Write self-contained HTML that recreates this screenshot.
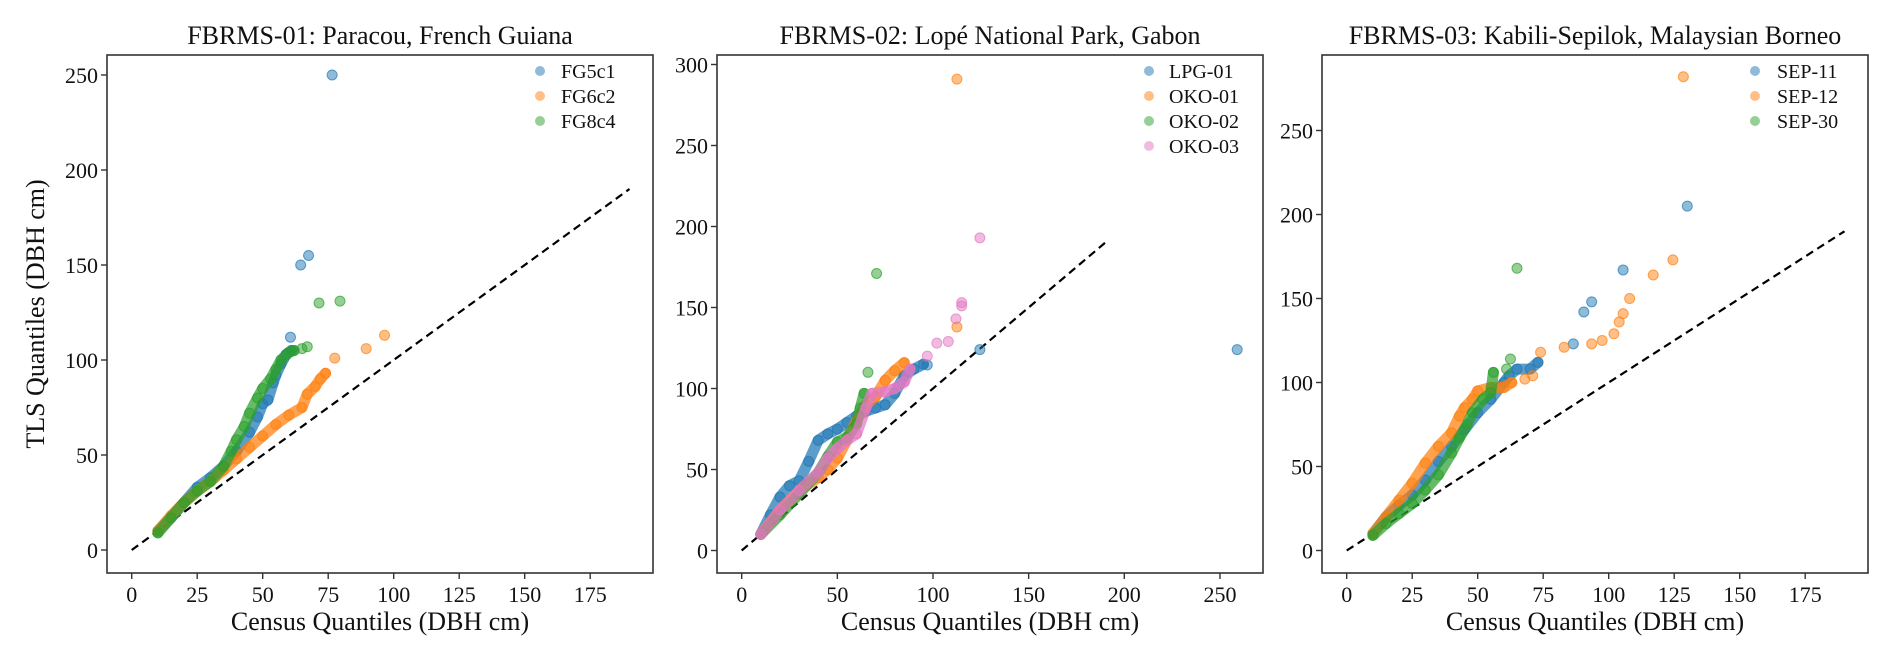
<!DOCTYPE html>
<html><head><meta charset="utf-8"><style>
html,body{margin:0;padding:0;background:#fff;}
svg{display:block;font-family:"Liberation Serif",serif;}
</style></head><body>
<svg id="fig" width="1892" height="658" viewBox="0 0 1892 658" xmlns="http://www.w3.org/2000/svg"></svg>
<script>
// ---- data (census quantile, TLS quantile) ----
const p1Names = ["FG5c1","FG6c2","FG8c4"];
const p1sX = [10,15,20,25,30,35,40,45,48,50,52,54,55,57,59,61,60.6,64.5,67.5,76.5];
const p1sY = [10,17,25,33,38,44,52,62,70,77,79,88,92,98,103,105,112,150,155,250];
const p1oX = [10,15,20,25,30,35,40,45,50,55,60,65,67,70,72,74,77.5,89.5,96.5];
const p1oY = [10,18,25,31,36,42,48,54,60,66,71,75,82,86,90,93,101,106,113];
const p1gX = [10,15,20,25,30,35,38,40,43,45,48,50,53,55,57,60,62,65,67,71.5,79.5];
const p1gY = [9,17,25,31,36,44,52,58,65,72,80,85,90,95,100,104,105,106,107,130,131];
const p1Dense = [16,16,17];

const p2Names = ["LPG-01","OKO-01","OKO-02","OKO-03"];
const p2bX = [10,15,20,25,30,35,40,45,50,55,60,65,70,75,80,85,90,95,97,124.5,259];
const p2bY = [10,22,33,40,43,55,68,72,75,79,83,86,88,90,97,108,112,115,114.5,124,124];
const p2oX = [10,20,30,40,45,50,55,60,65,70,75,80,85,112.5,112.5];
const p2oY = [10,25,37,45,50,57,68,80,90,95,105,111,116,138,291];
const p2gX = [10,20,30,40,45,50,55,60,62,64,66,70.5];
const p2gY = [10,22,35,48,58,67,70,78,88,97,110,171];
const p2pX = [10,20,30,40,45,50,55,60,65,68,75,80,85,88,97,102,108,112,115,115,124.5];
const p2pY = [10,25,37,48,57,63,68,72,88,97,98,100,104,112,120,128,129,143,151,153,193];
const p2Dense = [18,13,10,14];

const p3Names = ["SEP-11","SEP-12","SEP-30"];
const p3bX = [10,15,20,25,30,35,40,45,50,55,60,62,65,70,73,86.5,90.5,93.5,105.5,130];
const p3bY = [10,20,27,33,42,53,62,72,82,90,100,104,108,108,112,123,142,148,167,205];
const p3oX = [10,15,20,25,30,35,40,43,45,48,50,55,60,63,68,71,74,83,93.5,97.5,102,104,105.5,108,117,124.5,128.5];
const p3oY = [10,20,30,40,52,62,70,80,85,90,95,97,97,100,102,104,118,121,123,125,129,136,141,150,164,173,282];
const p3gX = [10,15,20,25,30,35,40,43,46,48,52,55,56,61,62.5,65];
const p3gY = [9,16,22,28,36,45,58,67,75,82,90,94,106,108,114,168];
const p3Dense = [15,14,13];

const xTicks1 = [0,25,50,75,100,125,150,175];
const xTicks2 = [0,50,100,150,200,250];
const xTicks3 = [0,25,50,75,100,125,150,175];
const yTicks1 = [0,50,100,150,200,250];
const yTicks2 = [0,50,100,150,200,250,300];
const yTicks3 = [0,50,100,150,200,250];

const C = {blue:"#1f77b4",orange:"#ff7f0e",green:"#2ca02c",pink:"#e377c2"};
const NS = "http://www.w3.org/2000/svg";
const svg = document.getElementById('fig');
function mk(tag, attrs, parent){const e=document.createElementNS(NS,tag);for(const k in attrs)e.setAttribute(k,attrs[k]);(parent||svg).appendChild(e);return e;}

const panels = [
 {title:"FBRMS-01: Paracou, French Guiana",L:107,R:653,T:55,B:573,x0:131.7,kx:2.62,y0:550,ky:1.9,xt:xTicks1,yt:yTicks1,dense:p1Dense,
  series:[[p1Names[0],p1sX,p1sY,C.blue],[p1Names[1],p1oX,p1oY,C.orange],[p1Names[2],p1gX,p1gY,C.green]],legX:540,legTX:561},
 {title:"FBRMS-02: Lopé National Park, Gabon",L:717,R:1263,T:55,B:573,x0:741.7,kx:1.913,y0:550.5,ky:1.62,xt:xTicks2,yt:yTicks2,dense:p2Dense,
  series:[[p2Names[0],p2bX,p2bY,C.blue],[p2Names[1],p2oX,p2oY,C.orange],[p2Names[2],p2gX,p2gY,C.green],[p2Names[3],p2pX,p2pY,C.pink]],legX:1149,legTX:1169},
 {title:"FBRMS-03: Kabili-Sepilok, Malaysian Borneo",L:1322,R:1868,T:55,B:573,x0:1346.7,kx:2.62,y0:550.5,ky:1.68,xt:xTicks3,yt:yTicks3,dense:p3Dense,
  series:[[p3Names[0],p3bX,p3bY,C.blue],[p3Names[1],p3oX,p3oY,C.orange],[p3Names[2],p3gX,p3gY,C.green]],legX:1755,legTX:1777}
];

panels.forEach((p,pi)=>{
  const g = mk('g',{});
  
  
  const sx = v=>p.x0+v*p.kx, sy = v=>p.y0-v*p.ky;
  const t = mk('text',{x:(p.L+p.R)/2,y:44,'text-anchor':'middle','font-size':26,fill:'#111'},g);
  t.textContent=p.title;
  
  
  const d = mk('line',{x1:sx(0),y1:sy(0),x2:sx(190),y2:sy(190),stroke:'#000','stroke-width':2.2,'stroke-dasharray':'8,5'},g);
  
  
  p.series.forEach(([name,xs,ys,col],si)=>{
    const sg = mk('g',{},g);
    
    
    const n = p.dense[si];
    let pts = [];
    for(let i=0;i<n && i<xs.length;i++) pts.push(sx(xs[i]).toFixed(1)+','+sy(ys[i]).toFixed(1));
    const pl = mk('polyline',{points:pts.join(' '),fill:'none',stroke:col,'stroke-width':11,'stroke-linecap':'round','stroke-linejoin':'round','stroke-opacity':0.72},sg);
    
    
    for(let i=0;i<xs.length;i++){
      const c = mk('circle',{cx:sx(xs[i]),cy:sy(ys[i]),r:5,fill:col,'fill-opacity':0.5,stroke:col,'stroke-opacity':0.7,'stroke-width':1},sg);
      
      
    }
  });
  const f = mk('rect',{x:p.L,y:p.T,width:p.R-p.L,height:p.B-p.T,fill:'none',stroke:'#333','stroke-width':1.6},g);
  
  
  p.xt.forEach(v=>{
    mk('line',{x1:sx(v),y1:p.B,x2:sx(v),y2:p.B+6,stroke:'#333','stroke-width':1.4},g);
    const tl = mk('text',{x:sx(v),y:p.B+29,'text-anchor':'middle','font-size':22,fill:'#111'},g);
    tl.textContent=v;
    
    
  });
  p.yt.forEach(v=>{
    mk('line',{x1:p.L-6,y1:sy(v),x2:p.L,y2:sy(v),stroke:'#333','stroke-width':1.4},g);
    const tl = mk('text',{x:p.L-9,y:sy(v)+8,'text-anchor':'end','font-size':22,fill:'#111'},g);
    tl.textContent=v;
    
    
  });
  const xl = mk('text',{x:(p.L+p.R)/2,y:630,'text-anchor':'middle','font-size':26,fill:'#111'},g);
  xl.textContent='Census Quantiles (DBH cm)';
  
  
  p.series.forEach(([name,,,col],i)=>{
    const ly = 71+i*25;
    const c = mk('circle',{cx:p.legX,cy:ly,r:5,fill:col,'fill-opacity':0.5},g);
    
    
    const lt = mk('text',{x:p.legTX,y:ly+7,'font-size':20,fill:'#111'},g);
    lt.textContent=name;
    
    
  });
});
const yl = mk('text',{x:0,y:0,'text-anchor':'middle','font-size':26,fill:'#111',transform:'translate(44,314) rotate(-90)'});
yl.textContent='TLS Quantiles (DBH cm)';


</script>
</body></html>
